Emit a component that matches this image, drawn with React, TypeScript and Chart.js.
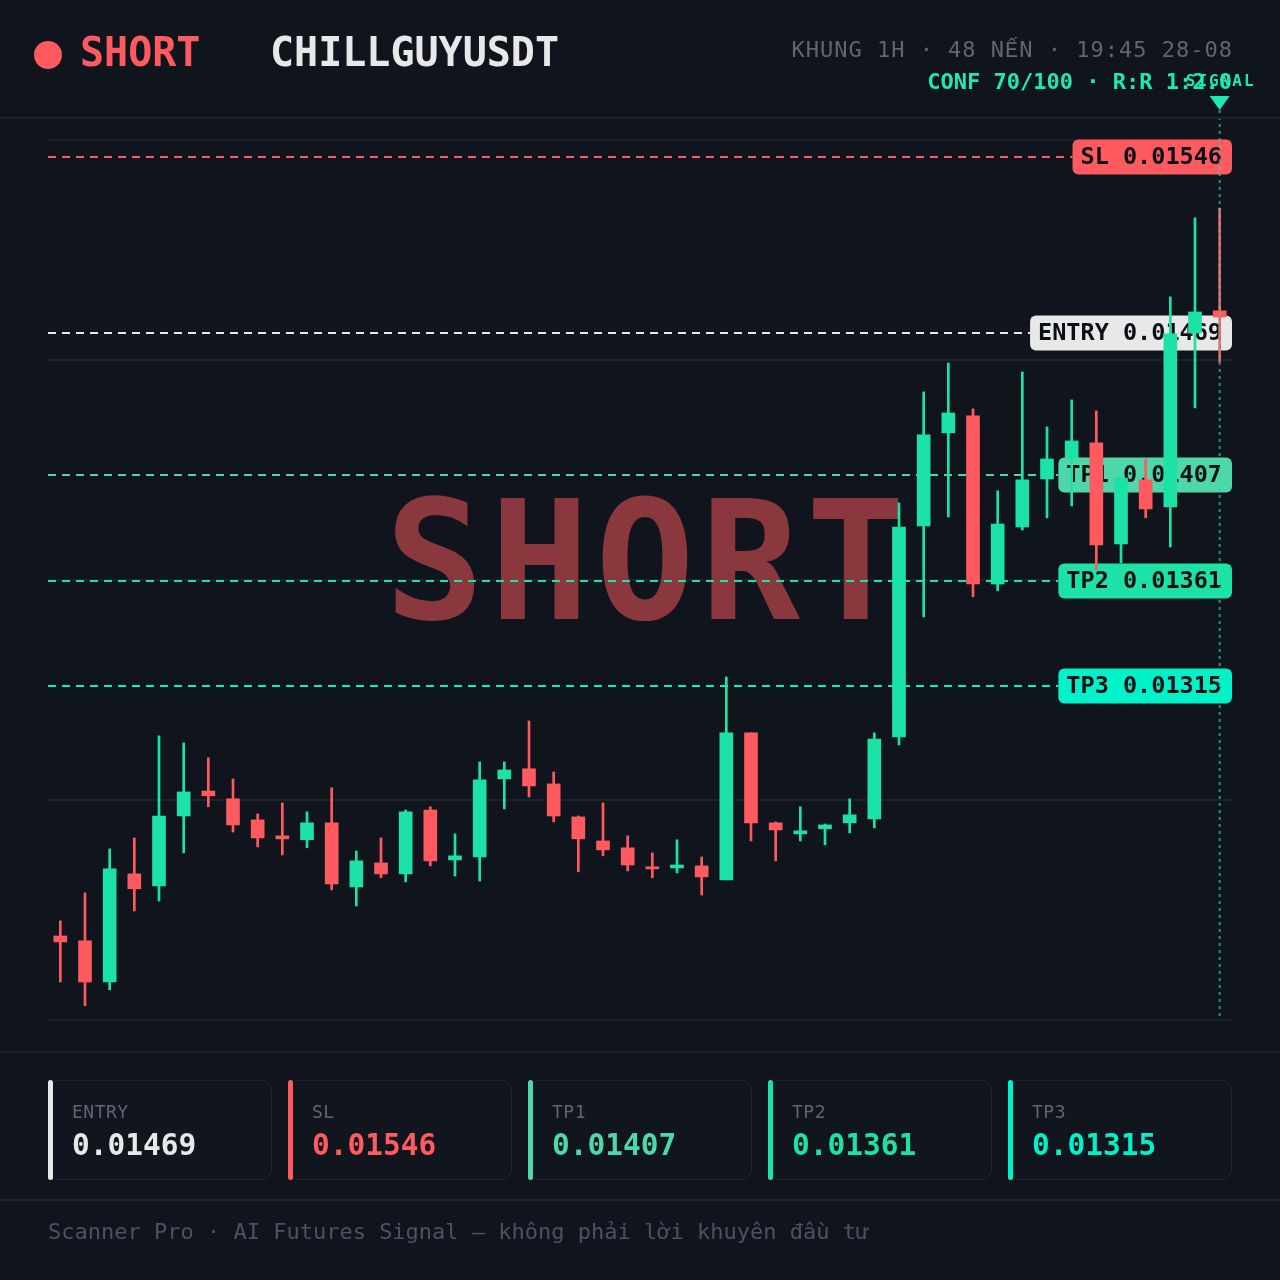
import React, { useEffect, useRef } from "react";
import { Chart, registerables } from "chart.js";

Chart.register(...registerables);

// ---------- DATA ----------
const symbol = "CHILLGUYUSDT";
const side = "SHORT";
const headerInfoA = "KHUNG 1H · 48 N";
const headerInfoB = "Ế";
const headerInfoC = "N · 19:45 28-08";
const headerConf = "CONF 70/100 · R:R 1:2.0";
const footerText = "Scanner Pro · AI Futures Signal — không phải lời khuyên đầu tư";

const categories = [
  "20:45", "21:45", "22:45", "23:45",
  "00:45", "01:45", "02:45", "03:45", "04:45", "05:45", "06:45", "07:45",
  "08:45", "09:45", "10:45", "11:45", "12:45", "13:45", "14:45", "15:45",
  "16:45", "17:45", "18:45", "19:45", "20:45", "21:45", "22:45", "23:45",
  "00:45", "01:45", "02:45", "03:45", "04:45", "05:45", "06:45", "07:45",
  "08:45", "09:45", "10:45", "11:45", "12:45", "13:45", "14:45", "15:45",
  "16:45", "17:45", "18:45", "19:45",
];

const opens = [
  0.012058, 0.012037, 0.011857, 0.012329, 0.012277, 0.012582, 0.012691, 0.012657, 0.012565, 0.012495,
  0.012478, 0.012552, 0.012272, 0.012377, 0.012329, 0.012608, 0.01239, 0.012403, 0.012744, 0.012788,
  0.012722, 0.012578, 0.012473, 0.012443, 0.01236, 0.012355, 0.012364, 0.012303, 0.012945, 0.012552,
  0.012504, 0.012526, 0.012552, 0.012569, 0.012927, 0.013849, 0.014255, 0.014329, 0.013595, 0.013844,
  0.014054, 0.014146, 0.014211, 0.01377, 0.01405, 0.013932, 0.014691, 0.014788,
];
const highs = [
  0.012124, 0.012246, 0.012438, 0.012486, 0.012932, 0.012901, 0.012836, 0.012744, 0.012591, 0.012639,
  0.0126, 0.012705, 0.012429, 0.012486, 0.012608, 0.012622, 0.012504, 0.012818, 0.012818, 0.012997,
  0.012774, 0.012582, 0.012639, 0.012495, 0.012421, 0.012478, 0.012403, 0.013189, 0.012945, 0.012556,
  0.012622, 0.012547, 0.012657, 0.012945, 0.013949, 0.014434, 0.01456, 0.01436, 0.014002, 0.014521,
  0.014281, 0.014399, 0.014351, 0.014063, 0.014141, 0.014849, 0.015194, 0.015237,
];
const lows = [
  0.011857, 0.011753, 0.011823, 0.012167, 0.012211, 0.012421, 0.012622, 0.012512, 0.012447, 0.012412,
  0.012443, 0.012259, 0.012189, 0.012312, 0.012294, 0.012364, 0.01232, 0.012298, 0.012613, 0.012665,
  0.012556, 0.012338, 0.012408, 0.012342, 0.012312, 0.012333, 0.012237, 0.012303, 0.012473, 0.012386,
  0.012473, 0.012456, 0.012508, 0.01253, 0.012892, 0.013451, 0.013888, 0.013539, 0.013565, 0.013831,
  0.013884, 0.013936, 0.013657, 0.013687, 0.013884, 0.013757, 0.014364, 0.014565,
];
const closes = [
  0.012032, 0.011857, 0.012351, 0.012264, 0.012582, 0.012687, 0.01267, 0.012543, 0.012486, 0.012482,
  0.012552, 0.012285, 0.012386, 0.012329, 0.0126, 0.012386, 0.012408, 0.01274, 0.012783, 0.012713,
  0.012582, 0.012482, 0.012434, 0.012368, 0.012351, 0.012368, 0.012316, 0.012945, 0.012552, 0.012521,
  0.012517, 0.012543, 0.012587, 0.012918, 0.013844, 0.014246, 0.014342, 0.013595, 0.013857, 0.01405,
  0.014141, 0.01422, 0.013766, 0.014058, 0.013923, 0.014687, 0.014783, 0.014761,
];

const levelNames = ["SL", "ENTRY", "TP1", "TP2", "TP3"];
const levelValues = [0.01546, 0.01469, 0.01407, 0.01361, 0.01315];
const cardOrder = ["ENTRY", "SL", "TP1", "TP2", "TP3"];

const yMin = 0.011691;
const yMax = 0.015534;

// ---------- STYLE ----------
const BG = "#10141c";
const UP = "#1de2a8";
const DOWN = "#ff5a5f";
const levelColors: Record<string, string> = {
  SL: "#ff5a5f",
  ENTRY: "#e8e8e8",
  TP1: "#4ed7a9",
  TP2: "#1de2a8",
  TP3: "#00f2c8",
};
const MONO = '"DejaVu Sans Mono", "Noto Sans", monospace';

const overlayPlugin = {
  id: "signalOverlay",
  beforeDatasetsDraw(chart: any) {
    const { ctx, chartArea: a, scales } = chart;
    const y = scales.y;
    ctx.save();
    // watermark
    ctx.font = `bold 165px ${MONO}`;
    (ctx as any).letterSpacing = "6px";
    ctx.fillStyle = "#8a383e";
    ctx.textAlign = "center";
    ctx.textBaseline = "alphabetic";
    ctx.fillText(side, (a.left + a.right) / 2 + 8, a.top + 479);
    (ctx as any).letterSpacing = "0px";

    // level lines + pills
    ctx.font = `bold 23.5px ${MONO}`;
    levelNames.forEach((name, i) => {
      const v = levelValues[i];
      const color = levelColors[name];
      const py = Math.round(y.getPixelForValue(v));
      const text = `${name} ${v.toFixed(5)}`;
      const w = ctx.measureText(text).width + 18;
      const h = 35;
      const bx = a.right - w;
      ctx.setLineDash([8, 6]);
      ctx.lineWidth = 2;
      ctx.strokeStyle = color;
      ctx.beginPath();
      ctx.moveTo(a.left, py);
      ctx.lineTo(bx, py);
      ctx.stroke();
      ctx.setLineDash([]);
      ctx.fillStyle = color;
      ctx.beginPath();
      ctx.roundRect(bx, py - h / 2, w, h, 6);
      ctx.fill();
      ctx.fillStyle = "#0b0f16";
      ctx.textAlign = "left";
      ctx.textBaseline = "middle";
      ctx.fillText(text, bx + 8, py + 1);
    });
    ctx.restore();
  },
  afterDatasetsDraw(chart: any) {
    const { ctx, chartArea: a, scales } = chart;
    const x = scales.x.getPixelForValue(categories.length - 1);
    ctx.save();
    ctx.strokeStyle = "rgba(29,226,168,0.65)";
    ctx.lineWidth = 2;
    ctx.setLineDash([3, 4]);
    ctx.beginPath();
    ctx.moveTo(x, 110);
    ctx.lineTo(x, a.bottom);
    ctx.stroke();
    ctx.setLineDash([]);
    ctx.fillStyle = "#1de9b6";
    ctx.beginPath();
    ctx.moveTo(x - 10, 96);
    ctx.lineTo(x + 10, 96);
    ctx.lineTo(x, 110);
    ctx.closePath();
    ctx.fill();
    ctx.font = `bold 16px ${MONO}`;
    (ctx as any).letterSpacing = "2px";
    ctx.textAlign = "center";
    ctx.textBaseline = "middle";
    ctx.fillText("SIGNAL", x + 1, 82);
    ctx.restore();
  },
};

function CandleChart() {
  const ref = useRef<HTMLCanvasElement | null>(null);
  useEffect(() => {
    if (!ref.current) return;
    const bodyColors = opens.map((o, i) => (closes[i] >= o ? UP : DOWN));
    const chart = new Chart(ref.current, {
      type: "bar",
      data: {
        labels: categories,
        datasets: [
          {
            label: "body",
            data: opens.map((o, i) => [o, closes[i]]) as any,
            backgroundColor: bodyColors,
            borderWidth: 0,
            barThickness: 13,
            minBarLength: 2,
            grouped: false,
            order: 0,
          },
          {
            label: "wick",
            data: lows.map((l, i) => [l, highs[i]]) as any,
            backgroundColor: bodyColors,
            borderWidth: 0,
            barThickness: 2,
            grouped: false,
            order: 1,
          },
        ],
      },
      options: {
        responsive: false,
        maintainAspectRatio: false,
        animation: false,
        layout: { padding: { left: 48, right: 48, top: 140, bottom: 260 } },
        plugins: { legend: { display: false }, tooltip: { enabled: false } },
        scales: {
          x: { display: false, offset: true, grid: { display: false } },
          y: {
            display: true,
            min: yMin,
            max: yMax,
            ticks: { display: false },
            border: { display: false },
            grid: { color: "#1c212c", lineWidth: 2, drawTicks: false },
            afterBuildTicks: (s: any) => {
              const step = (yMax - yMin) / 4;
              s.ticks = [0, 1, 2, 3, 4].map((k) => ({ value: yMin + k * step }));
            },
            afterFit: (s: any) => {
              s.width = 0;
            },
          },
        },
      },
      plugins: [overlayPlugin],
    });
    return () => chart.destroy();
  }, []);
  return (
    <canvas
      ref={ref}
      width={1280}
      height={1280}
      style={{ position: "absolute", left: 0, top: 0, width: 1280, height: 1280 }}
    />
  );
}

export default function App() {
  const abs = (s: React.CSSProperties): React.CSSProperties => ({
    position: "absolute",
    fontFamily: MONO,
    lineHeight: 1,
    whiteSpace: "nowrap",
    margin: 0,
    ...s,
  });
  return (
    <div style={{ position: "relative", width: 1280, height: 1280, background: BG, overflow: "hidden" }}>
      <style>{`body{margin:0;background:${BG}}`}</style>
      <CandleChart />
      {/* header */}
      <div style={{ position: "absolute", left: 34, top: 41, width: 28, height: 28, borderRadius: "50%", background: DOWN }} />
      <div style={abs({ left: 80, top: 32, fontSize: 40, fontWeight: 700, color: DOWN })}>{side}</div>
      <div style={abs({ left: 270, top: 32, fontSize: 40, fontWeight: 700, color: "#e8e8e8" })}>{symbol}</div>
      <div style={abs({ right: 47, top: 39, fontSize: 22, color: "#5f6673", letterSpacing: 1 })}>
        {headerInfoA}
        <span style={{ fontFamily: '"Liberation Mono", "Noto Sans", monospace' }}>{headerInfoB}</span>
        {headerInfoC}
      </div>
      <div style={abs({ right: 48, top: 71, fontSize: 22, fontWeight: 700, color: "#1de9b6" })}>{headerConf}</div>
      {/* dividers */}
      <div style={{ position: "absolute", left: 0, top: 117, width: 1280, height: 2, background: "#1c212c" }} />
      <div style={{ position: "absolute", left: 0, top: 1051, width: 1280, height: 2, background: "#1c212c" }} />
      <div style={{ position: "absolute", left: 0, top: 1199, width: 1280, height: 2, background: "#1c212c" }} />
      {/* cards */}
      {cardOrder.map((name, i) => {
        const left = 48 + i * 240;
        const v = levelValues[levelNames.indexOf(name)];
        const color = levelColors[name];
        return (
          <React.Fragment key={name}>
            <div
              style={{
                position: "absolute",
                left,
                top: 1080,
                width: 224,
                height: 100,
                boxSizing: "border-box",
                border: "1px solid #1f2430",
                borderRadius: 10,
                background: "#11151e",
              }}
            />
            <div style={{ position: "absolute", left, top: 1080, width: 5, height: 100, borderRadius: 3, background: color }} />
            <div style={abs({ left: left + 24, top: 1103, fontSize: 18, color: "#5f6673", letterSpacing: 0.5 })}>{name}</div>
            <div style={abs({ left: left + 24, top: 1131, fontSize: 29.5, fontWeight: 700, color })}>{v.toFixed(5)}</div>
          </React.Fragment>
        );
      })}
      <div style={abs({ left: 48, top: 1221, fontSize: 22, color: "#4a5263" })}>{footerText}</div>
    </div>
  );
}
